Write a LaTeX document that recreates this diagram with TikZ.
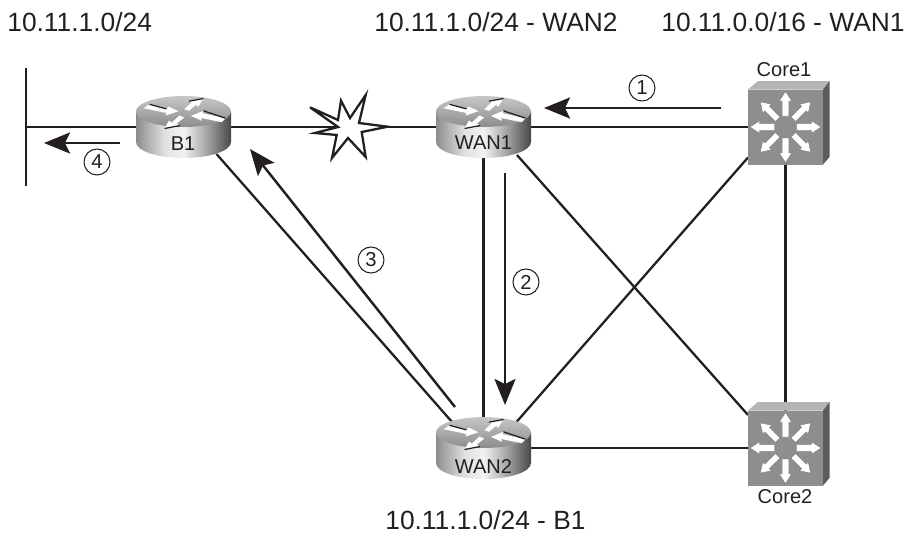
\documentclass[tikz,border=0pt]{standalone}
\usepackage{fontspec}
\setmainfont{Liberation Sans}
\usepackage{xcolor}
\usetikzlibrary{arrows.meta}
\definecolor{inkline}{HTML}{231F20}
\definecolor{swfront}{HTML}{8E8E8E}
\definecolor{swtop}{HTML}{B4B4B4}
\definecolor{swside}{HTML}{5C5C5C}
\pgfdeclarehorizontalshading{routerside}{100bp}{
  color(0bp)=(black!45); color(25bp)=(black!45); color(40bp)=(black!12);
  color(50bp)=(black!5); color(62bp)=(black!35); color(75bp)=(black!72); color(100bp)=(black!72)}
\tikzset{>={Stealth[length=0.52cm,width=0.42cm,inset=0.1cm]}}
\tikzset{
  wire/.style={draw=inkline, line width=1.3pt},
  flow/.style={draw=inkline, line width=1.4pt, ->},
  routerbox/.style={inner sep=0pt, outer sep=0pt, minimum width=1.9cm, minimum height=1.24cm},
  switchbox/.style={inner sep=0pt, outer sep=0pt, minimum width=1.5cm, minimum height=1.5cm},
  devlabel/.style={inner sep=0pt, text=inkline, font=\fontsize{11.4pt}{13pt}\selectfont},
  routelabel/.style={inner sep=0pt, anchor=west, text=inkline, font=\fontsize{15pt}{17pt}\selectfont},
  stepmark/.style={circle, draw=inkline, line width=0.6pt, inner sep=0pt, minimum size=0.52cm,
    text=inkline, font=\fontsize{11.5pt}{13pt}\selectfont},
  iconedge/.style={draw=inkline, line width=0.7pt},
  routericon/.pic={
    \shade[shading=routerside] (-47.5,-15.5) -- (-47.5,15) .. controls (-47.5,24) and (-26,31) .. (0,31)
      .. controls (26,31) and (47.5,24) .. (47.5,15) -- (47.5,-15.5) -- cycle;
    \shade[top color=black!22, bottom color=black!45] (0,-15.5) ellipse [x radius=47.5, y radius=15.5];
    \begin{scope}[shift={(0,-15.5)}]
      \fill[white] (-40,-3.3) -- (-34,-7.2) -- (-17,-2.6) -- (-15,-5) -- (-5,-0.3) -- (-18,4) -- (-17,1.5) -- cycle;
      \fill[white] (20,-13) -- (14.5,-4.5) -- (12.7,-7) -- (5.5,-0.7) -- (0.7,-2.3) -- (8,-9) -- (5.5,-10.3) -- cycle;
      \fill[white] (7.5,4.3) -- (20,-0.7) -- (19.3,1.8) -- (42,6.7) -- (38.3,10.7) -- (17.7,6.5) -- (18.3,9.3) -- cycle;
      \fill[white] (-19,17) -- (-14.5,9) -- (-11.7,11) -- (-4,4) -- (0.7,6) -- (-6.7,12) -- (-3.5,14) -- cycle;
      \draw[iconedge] (-34,-7.2) -- (-17,-2.6);
      \draw[iconedge] (20,-13) -- (5.5,-10.3);
      \draw[iconedge] (20,-0.7) -- (42,6.7);
      \draw[iconedge] (-19,17) -- (-3.5,14);
    \end{scope}
  },
  switchicon/.pic={
    \fill[swtop] (-37.5,-37.5) -- (-27.5,-46) -- (44,-46) -- (37.5,-37.5) -- cycle;
    \fill[swside] (37.5,-37.5) -- (44,-46) -- (44,30) -- (37.5,37.5) -- cycle;
    \fill[swfront] (-37.5,-37.5) rectangle (37.5,37.5);
    \foreach \ang in {0,45,...,315}
      \filldraw[rotate=\ang, fill=white, draw=black!55, line width=0.2pt]
        (11,-3.3) -- (26,-3.3) -- (26,-6.2) -- (35.5,0) -- (26,6.2) -- (26,3.3) -- (11,3.3) -- cycle;
  },
}

\begin{document}
\begin{tikzpicture}[x=0.02cm, y=-0.02cm]
  \useasboundingbox (0,0) rectangle (906,535);

  \node[routerbox] (b1) at (183.5,127) {};
  \node[routerbox] (wan1) at (483.5,127) {};
  \node[routerbox] (wan2) at (483.5,448) {};
  \node[switchbox] (core1) at (785.5,127) {};
  \node[switchbox] (core2) at (785.5,448) {};

  % LAN bar
  \coordinate (bartop) at (26,68);
  \coordinate (barbot) at (26,186);
  \coordinate (barjoin) at (26,127);
  \draw[wire] (bartop) -- (barbot);
  \draw[wire] (barjoin) -- (b1);

  \draw[wire] (b1) -- (wan1);
  \draw[wire] (wan1) -- (core1);
  \draw[wire] (wan2) -- (core2);
  \draw[wire] (wan1) -- (wan2);
  \draw[wire] (core1) -- (core2);
  \draw[wire] ([shift={(33,27)}]b1.center) -- ([shift={(-31,-25.5)}]wan2.center);
  \draw[wire] ([shift={(33.5,28)}]wan1.center) -- ([shift={(-37.5,-33)}]core2.center);
  \draw[wire] ([shift={(32.5,-25.5)}]wan2.center) -- ([shift={(-37.5,30.5)}]core1.center);

  \pic at (b1.center) {routericon};
  \pic at (wan1.center) {routericon};
  \pic at (wan2.center) {routericon};
  \pic at (core1.center) {switchicon};
  \pic at (core2.center) {switchicon};

  % link failure
  \filldraw[fill=white, draw=inkline, line width=1.3pt, miter limit=10]
    (310,107.3) -- (338,120) -- (341,100.7) -- (350,118) -- (365.7,95) -- (359,123) -- (387.7,126.7)
    -- (361.7,132) -- (365.7,157) -- (348,138) -- (332,158) -- (336.7,135) -- (315,133) -- (338,127) -- cycle;

  \node[devlabel] (b1lab) at (183,144) {B1};
  \node[devlabel] (wan1lab) at (483.5,143) {WAN1};
  \node[devlabel] (wan2lab) at (483.5,466) {WAN2};
  \node[devlabel] (core1lab) at (784,70) {Core1};
  \node[devlabel] (core2lab) at (785,497) {Core2};

  \node[routelabel] (lanroute) at (7,22) {10.11.1.0/24};
  \node[routelabel] (wan2route) at (374,22) {10.11.1.0/24 - WAN2};
  \node[routelabel] (wan1route) at (661,22) {10.11.0.0/16 - WAN1};
  \node[routelabel] (b1route) at (385,520) {10.11.1.0/24 - B1};

  % numbered flow steps
  \coordinate (flow1s) at (721,108);
  \coordinate (flow1e) at (544,108);
  \coordinate (flow2s) at (505,173);
  \coordinate (flow2e) at (505,405);
  \coordinate (flow3s) at (455,407);
  \coordinate (flow3e) at (250,149);
  \coordinate (flow4s) at (120,143);
  \coordinate (flow4e) at (44,143);
  \draw[flow] (flow1s) -- (flow1e);
  \draw[flow] (flow2s) -- (flow2e);
  \draw[flow] (flow3s) -- (flow3e);
  \draw[flow] (flow4s) -- (flow4e);
  \node[stepmark] (step1) at (642,88) {1};
  \node[stepmark] (step2) at (526,282) {2};
  \node[stepmark] (step3) at (371,260) {3};
  \node[stepmark] (step4) at (97,162) {4};
\end{tikzpicture}
\end{document}
